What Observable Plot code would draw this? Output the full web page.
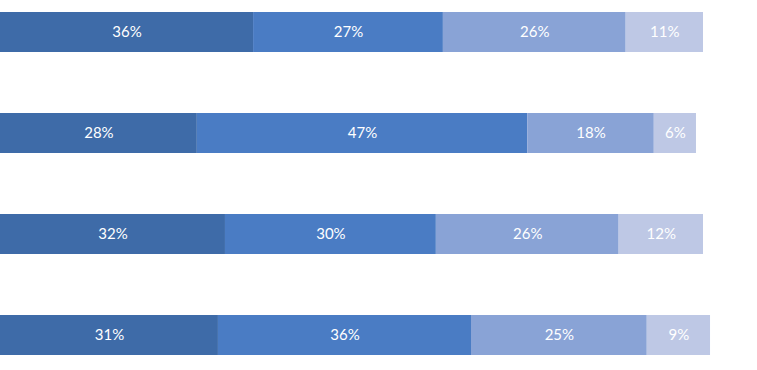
<!DOCTYPE html>
<html>
<head>
<meta charset="utf-8">
<script src="https://cdn.jsdelivr.net/npm/d3@7"></script>
<script src="https://cdn.jsdelivr.net/npm/@observablehq/plot@0.6"></script>
<style>
  html, body { margin: 0; padding: 0; background: #ffffff; }
  #chart svg { display: block; }
</style>
</head>
<body>
<div id="chart"></div>
<script>
const rows = ["Row 1", "Row 2", "Row 3", "Row 4"];
const segments = ["Segment 1", "Segment 2", "Segment 3", "Segment 4"];
const seg1 = [36, 28, 32, 31];
const seg2 = [27, 47, 30, 36];
const seg3 = [26, 18, 26, 25];
const seg4 = [11, 6, 12, 9];
const colors = ["#3e6ba8", "#4a7cc4", "#89a3d6", "#bec8e5"];

const series = [seg1, seg2, seg3, seg4];
const data = [];
rows.forEach((r, i) => {
  segments.forEach((s, j) => {
    data.push({row: r, segment: s, value: series[j][i]});
  });
});

const chart = Plot.plot({
  width: 757,
  height: 370,
  margin: 0,
  style: {fontFamily: "Lato, 'Open Sans', sans-serif", background: "#ffffff"},
  x: {domain: [0, 100], range: [0, 703], axis: null},
  y: {domain: rows, range: [11.5, 356], paddingInner: 0.605, paddingOuter: 0, axis: null},
  color: {domain: segments, range: colors},
  marks: [
    Plot.barX(data, {x: "value", y: "row", fill: "segment", order: segments}),
    Plot.text(data, Plot.stackX({x: "value", y: "row", z: "segment", order: segments,
      text: d => d.value + "%", fill: "white", fontSize: 15}))
  ]
});
document.getElementById("chart").appendChild(chart);
</script>
</body>
</html>
